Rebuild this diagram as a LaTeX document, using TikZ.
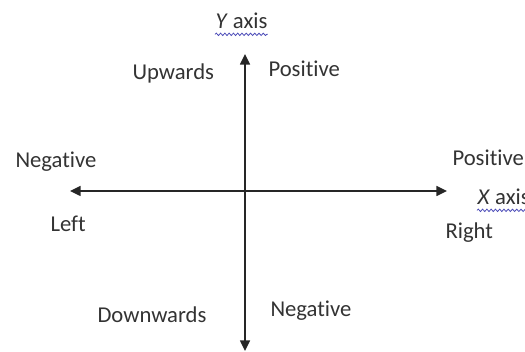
\documentclass[tikz,border=0pt]{standalone}
\usepackage{fontspec}
\setmainfont[RawFeature={-liga,-dlig}]{Carlito}
\usetikzlibrary{arrows.meta,decorations.pathmorphing}

\tikzset{every picture/.style={line width=0.75pt}}
\tikzset{
  axisline/.style={line width=1.1pt, black!85, {Triangle[width=7.5pt,length=8pt]}-{Triangle[width=7.5pt,length=8pt]}},
  lbl/.style={anchor=base west, inner sep=0pt, text=black!80, font=\fontsize{17}{20}\selectfont},
  squiggle/.style={draw=blue!60!black!70, line width=0.6pt, decorate, decoration={snake, amplitude=0.9pt, segment length=3.2pt}}
}

\begin{document}
\begin{tikzpicture}[x=0.75pt,y=0.75pt,yscale=-1,xscale=1]
\useasboundingbox (0,0) rectangle (525,352);

%Axis ends
\coordinate (ytop) at (245,54);
\coordinate (ybot) at (245,351);
\coordinate (xleft) at (70,191);
\coordinate (xright) at (447,191);

%Vertical axis
\draw [axisline] (ybot) -- (ytop);
%Horizontal axis
\draw [axisline] (xleft) -- (xright);

% Text Node
\draw (215,29) node [lbl] (yaxis) {\textit{Y} axis};
% Text Node
\draw (132,80) node [lbl] (upw) {Upwards};
% Text Node
\draw (268,77) node [lbl] (posy) {Positive};
% Text Node
\draw (15,168) node [lbl] (negx) {Negative};
% Text Node
\draw (50,232) node [lbl] (leftlbl) {Left};
% Text Node
\draw (452,166) node [lbl] (posx) {Positive};
% Text Node
\draw (477,205) node [lbl] (xaxis) {\textit{X} axis};
% Text Node
\draw (445,239) node [lbl] (rightlbl) {Right};
% Text Node
\draw (97,323) node [lbl] (downw) {Downwards};
% Text Node
\draw (270,317) node [lbl] (negy) {Negative};

%Spell check underlines
\path [squiggle] ([yshift=4]yaxis.base west) -- ([yshift=4]yaxis.base east);
\path [squiggle] ([yshift=4]xaxis.base west) -- ([yshift=4]xaxis.base east);

\end{tikzpicture}
\end{document}
